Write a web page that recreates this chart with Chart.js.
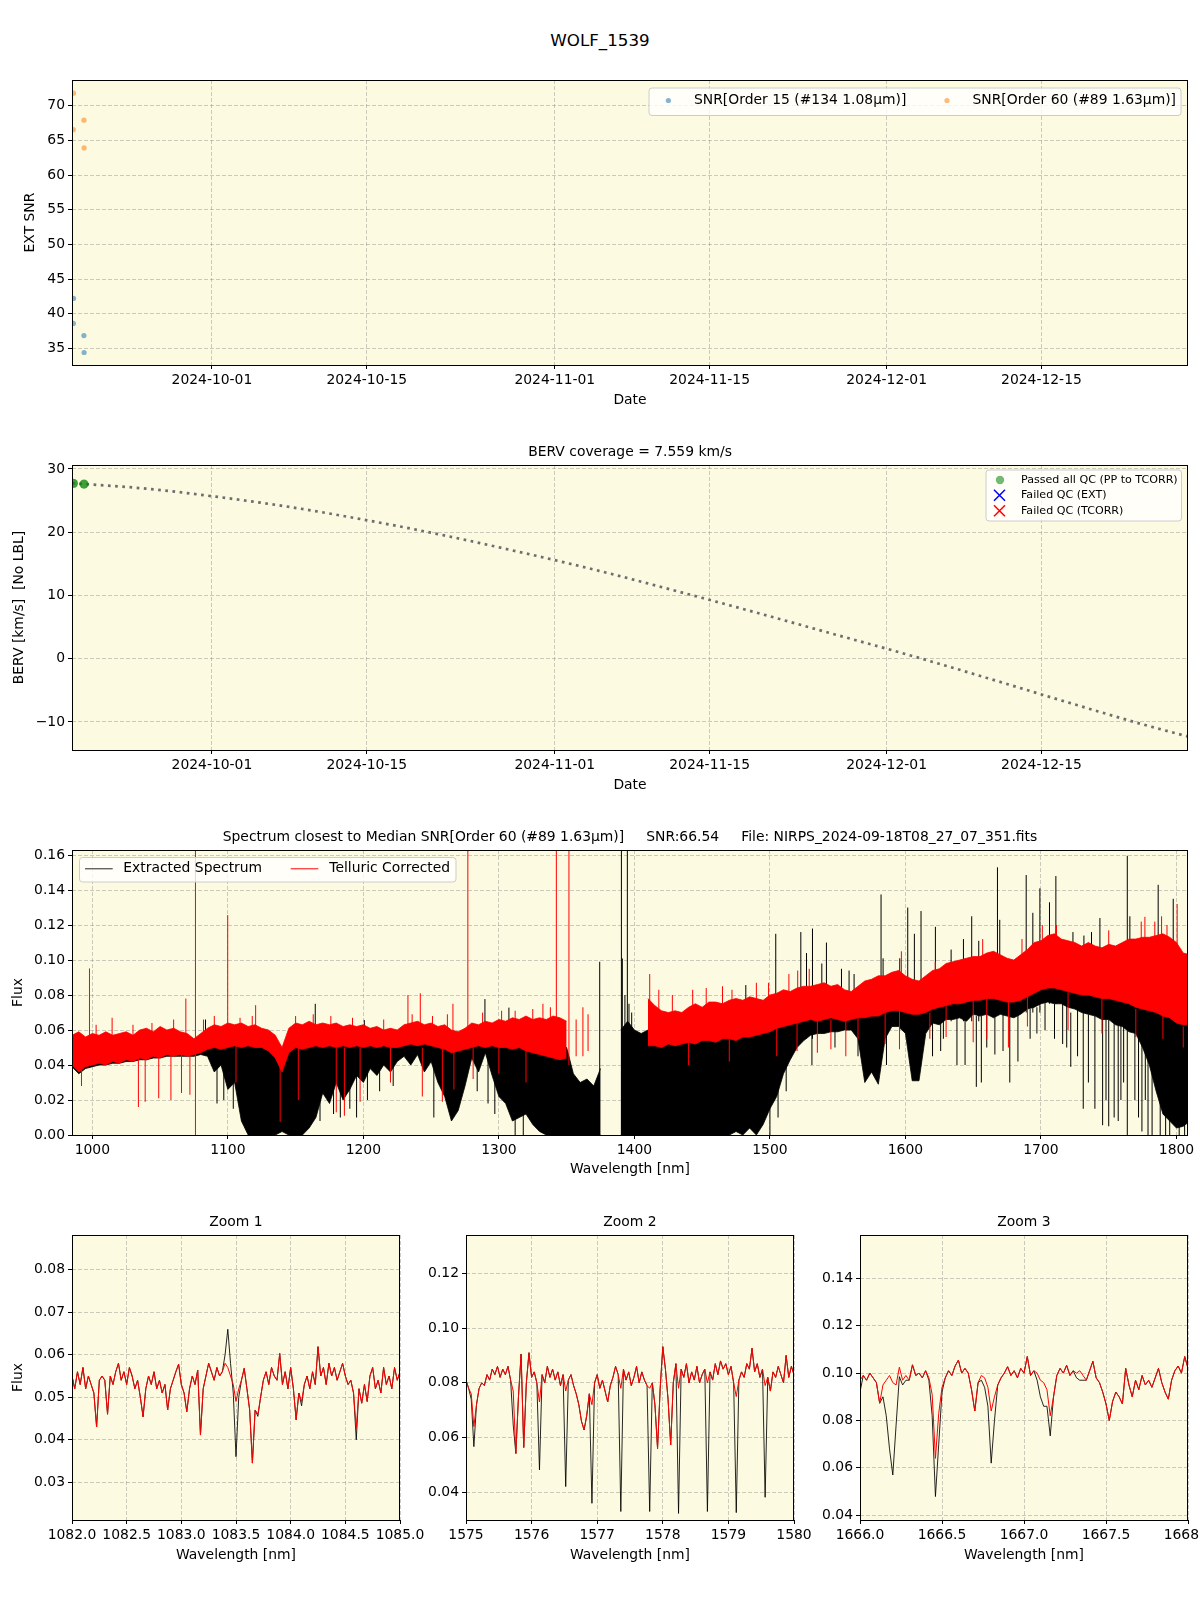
<!DOCTYPE html>
<html>
<head>
<meta charset="utf-8">
<script src="https://cdn.jsdelivr.net/npm/chart.js@4.4.1/dist/chart.umd.min.js"></script>
<style>
  body { margin: 0; background: #fff; width: 1200px; height: 1600px; position: relative; }
  canvas { position: absolute; }
  #suptitle { position: absolute; left: 0; top: 30px; width: 1200px; text-align: center;
    font-family: 'DejaVu Sans'; font-size: 16.7px; line-height: 20px; }
</style>
</head>
<body>
<div id="suptitle">WOLF_1539</div>
<canvas id="snrChart"></canvas>
<canvas id="bervChart"></canvas>
<canvas id="specChart"></canvas>
<canvas id="zoom1Chart"></canvas>
<canvas id="zoom2Chart"></canvas>
<canvas id="zoom3Chart"></canvas>
<script>
// ---- SNR panel ----
const obsDates = ['2024-09-18T11:15:00Z', '2024-09-18T11:40:00Z', '2024-09-19T10:15:00Z', '2024-09-19T10:40:00Z'];
const snrOrder15 = [38.6, 42.2, 36.85, 34.4];
const snrOrder60 = [66.54, 71.8, 67.9, 63.9];
const dateTicks = ['2024-10-01', '2024-10-15', '2024-11-01', '2024-11-15', '2024-12-01', '2024-12-15'];
const dateMin = '2024-09-18T08:24:00Z';
const dateMax = '2024-12-28T06:00:00Z';
const snrTicks = [35, 40, 45, 50, 55, 60, 65, 70];

// ---- BERV panel ----
const bervObs = [27.75, 27.7, 27.62, 27.6];
const bervCurveDates = ['2024-09-18T08:27:00Z', '2024-09-25', '2024-10-01', '2024-10-08', '2024-10-15', '2024-10-22',
  '2024-10-29', '2024-11-05', '2024-11-12', '2024-11-19', '2024-11-26', '2024-12-03', '2024-12-10',
  '2024-12-17', '2024-12-24', '2024-12-28T06:00:00Z'];
const bervCurve = [27.75, 26.9, 25.7, 24.0, 21.9, 19.5, 16.8, 13.9, 10.7, 7.4, 4.0, 0.6, -3.0, -6.7, -10.3, -12.3];
const bervTicks = [-10, 0, 10, 20, 30];

// ---- full spectrum: band envelopes on a 5 nm grid from 985 nm ----
const specStart = 985, specStep = 5;
const redHi = [
  0.057, 0.059, 0.056, 0.058, 0.057, 0.059, 0.057, 0.058, 0.059, 0.057,
  0.060, 0.061, 0.059, 0.062, 0.060, 0.061, 0.059, 0.058, 0.055, 0.058,
  0.061, 0.063, 0.062, 0.064, 0.063, 0.064, 0.062, 0.063, 0.061, 0.060,
  0.057, 0.050, 0.061, 0.064, 0.063, 0.065, 0.063, 0.064, 0.063, 0.064,
  0.062, 0.063, 0.062, 0.063, 0.061, 0.062, 0.060, 0.061, 0.060, 0.063,
  0.064, 0.065, 0.063, 0.064, 0.062, 0.063, 0.060, 0.059, 0.061, 0.064,
  0.063, 0.065, 0.064, 0.066, 0.065, 0.067, 0.066, 0.068, 0.066, 0.067,
  0.066, 0.068, 0.067, 0.065, null, null, null, null, null, null,
  null, null, null, null, null, 0.078, 0.074, 0.071, 0.070, 0.071,
  0.070, 0.073, 0.075, 0.073, 0.076, 0.076, 0.075, 0.077, 0.078, 0.077,
  0.079, 0.078, 0.077, 0.080, 0.081, 0.083, 0.082, 0.084, 0.085, 0.085,
  0.086, 0.087, 0.085, 0.086, 0.083, 0.082, 0.085, 0.088, 0.089, 0.091,
  0.091, 0.093, 0.094, 0.091, 0.089, 0.088, 0.091, 0.094, 0.095, 0.098,
  0.099, 0.100, 0.101, 0.102, 0.102, 0.104, 0.105, 0.103, 0.101, 0.100,
  0.103, 0.106, 0.110, 0.111, 0.114, 0.115, 0.112, 0.111, 0.110, 0.108,
  0.110, 0.108, 0.107, 0.109, 0.108, 0.110, 0.112, 0.112, 0.113, 0.113,
  0.114, 0.115, 0.113, 0.110, 0.104, 0.103
];
const redLo = [
  0.040, 0.036, 0.039, 0.040, 0.041, 0.040, 0.042, 0.041, 0.043, 0.042,
  0.044, 0.043, 0.045, 0.044, 0.046, 0.045, 0.046, 0.045, 0.046, 0.047,
  0.049, 0.050, 0.049, 0.050, 0.051, 0.050, 0.051, 0.050, 0.050, 0.048,
  0.044, 0.036, 0.047, 0.050, 0.049, 0.050, 0.051, 0.050, 0.051, 0.050,
  0.051, 0.050, 0.051, 0.050, 0.051, 0.050, 0.051, 0.050, 0.050, 0.051,
  0.052, 0.051, 0.052, 0.051, 0.050, 0.049, 0.047, 0.048, 0.049, 0.050,
  0.051, 0.050, 0.051, 0.050, 0.050, 0.049, 0.050, 0.048, 0.047, 0.046,
  0.045, 0.044, 0.043, 0.044, null, null, null, null, null, null,
  null, null, null, null, null, 0.051, 0.051, 0.050, 0.052, 0.051,
  0.052, 0.053, 0.052, 0.054, 0.054, 0.053, 0.055, 0.055, 0.054, 0.056,
  0.056, 0.057, 0.058, 0.059, 0.061, 0.062, 0.063, 0.064, 0.065, 0.066,
  0.065, 0.066, 0.067, 0.066, 0.065, 0.066, 0.067, 0.067, 0.068, 0.068,
  0.070, 0.071, 0.071, 0.070, 0.069, 0.069, 0.070, 0.072, 0.073, 0.074,
  0.075, 0.075, 0.076, 0.077, 0.077, 0.078, 0.078, 0.077, 0.076, 0.076,
  0.077, 0.079, 0.081, 0.083, 0.084, 0.084, 0.083, 0.082, 0.081, 0.080,
  0.080, 0.079, 0.078, 0.078, 0.077, 0.076, 0.075, 0.073, 0.072, 0.071,
  0.070, 0.068, 0.067, 0.064, 0.063, 0.063
];
const blackHi = [
  0.048, 0.044, 0.047, 0.048, 0.049, 0.048, 0.050, 0.049, 0.051, 0.050,
  0.052, 0.051, 0.053, 0.052, 0.054, 0.053, 0.054, 0.053, 0.052, 0.055,
  0.057, 0.058, 0.057, 0.058, 0.059, 0.058, 0.059, 0.058, 0.058, 0.056,
  0.052, 0.044, 0.055, 0.058, 0.057, 0.058, 0.059, 0.058, 0.059, 0.058,
  0.059, 0.058, 0.059, 0.058, 0.059, 0.058, 0.059, 0.058, 0.058, 0.059,
  0.060, 0.059, 0.060, 0.059, 0.058, 0.057, 0.055, 0.056, 0.057, 0.058,
  0.059, 0.058, 0.059, 0.058, 0.058, 0.057, 0.058, 0.056, 0.055, 0.054,
  0.053, 0.052, 0.051, 0.050, 0.035, 0.030, 0.032, 0.028, 0.038, null,
  null, 0.060, 0.065, 0.060, 0.058, 0.060, 0.058, 0.059, 0.060, 0.059,
  0.060, 0.061, 0.060, 0.061, 0.062, 0.061, 0.062, 0.063, 0.062, 0.063,
  0.064, 0.065, 0.066, 0.067, 0.069, 0.070, 0.071, 0.072, 0.073, 0.074,
  0.073, 0.074, 0.074, 0.074, 0.073, 0.074, 0.075, 0.075, 0.076, 0.076,
  0.078, 0.079, 0.079, 0.078, 0.077, 0.077, 0.078, 0.080, 0.081, 0.082,
  0.083, 0.083, 0.084, 0.085, 0.085, 0.086, 0.086, 0.086, 0.084, 0.084,
  0.085, 0.087, 0.089, 0.091, 0.092, 0.092, 0.091, 0.090, 0.089, 0.088,
  0.088, 0.087, 0.086, 0.086, 0.086, 0.085, 0.082, 0.080, 0.079, 0.078,
  0.077, 0.076, 0.074, 0.072, 0.070, 0.072
];
const blackLo = [
  0.039, 0.035, 0.038, 0.039, 0.040, 0.040, 0.041, 0.041, 0.042, 0.042,
  0.043, 0.043, 0.044, 0.044, 0.045, 0.045, 0.045, 0.045, 0.045, 0.046,
  0.045, 0.036, 0.040, 0.026, 0.030, 0.008, 0.0, 0.0, 0.0, 0.0,
  0.0, 0.002, 0.0, 0.0, 0.0, 0.004, 0.010, 0.024, 0.018, 0.030,
  0.020, 0.026, 0.034, 0.030, 0.038, 0.034, 0.040, 0.036, 0.042, 0.045,
  0.040, 0.046, 0.036, 0.042, 0.030, 0.022, 0.008, 0.014, 0.028, 0.044,
  0.036, 0.047, 0.034, 0.022, 0.018, 0.008, 0.010, 0.012, 0.006, 0.002,
  0.0, 0.0, 0.0, 0.0, 0.0, 0.0, 0.0, 0.0, 0.0, null,
  null, 0.0, 0.0, 0.0, 0.0, 0.0, 0.0, 0.0, 0.0, 0.0,
  0.0, 0.0, 0.0, 0.0, 0.0, 0.0, 0.0, 0.0, 0.002, 0.0,
  0.004, 0.0, 0.006, 0.015, 0.022, 0.035, 0.043, 0.050, 0.054, 0.057,
  0.058, 0.058, 0.059, 0.059, 0.060, 0.060, 0.055, 0.030, 0.036, 0.029,
  0.055, 0.062, 0.062, 0.058, 0.031, 0.031, 0.058, 0.064, 0.063, 0.066,
  0.066, 0.067, 0.065, 0.069, 0.068, 0.069, 0.067, 0.069, 0.068, 0.067,
  0.069, 0.072, 0.073, 0.075, 0.076, 0.075, 0.075, 0.073, 0.072, 0.070,
  0.069, 0.068, 0.066, 0.066, 0.063, 0.062, 0.059, 0.058, 0.050, 0.040,
  0.025, 0.012, 0.008, 0.004, 0.005, 0.008
];
// single lines sticking out of the bands: [wavelength, low flux, high flux]
const redSpikes = [
  [992, 0.028, 0.040], [997.9, 0.045, 0.0952], [1002.8, 0.050, 0.063], [1014.6, 0.050, 0.067],
  [1030, 0.052, 0.063], [1034, 0.016, 0.045], [1039, 0.019, 0.045], [1044, 0.055, 0.064],
  [1049, 0.021, 0.046], [1058, 0.020, 0.047], [1060, 0.055, 0.066], [1065.8, 0.024, 0.047],
  [1069, 0.050, 0.078], [1072, 0.023, 0.047], [1076.1, 0.0, 0.17], [1082, 0.052, 0.066],
  [1090, 0.055, 0.068], [1099.9, 0.055, 0.1257], [1106, 0.030, 0.052], [1109, 0.058, 0.067],
  [1118, 0.058, 0.068], [1120.5, 0.055, 0.0742], [1138.6, 0.0075, 0.040], [1150, 0.058, 0.068],
  [1152, 0.020, 0.050], [1163, 0.058, 0.069], [1176, 0.058, 0.068], [1180, 0.013, 0.050],
  [1186, 0.011, 0.050], [1192, 0.058, 0.067], [1197.6, 0.019, 0.050], [1215, 0.056, 0.066],
  [1220, 0.030, 0.050], [1232.9, 0.055, 0.080], [1236, 0.058, 0.069], [1242, 0.055, 0.081],
  [1243.5, 0.022, 0.050], [1251, 0.058, 0.068], [1258.3, 0.019, 0.050], [1262, 0.058, 0.069],
  [1266.1, 0.055, 0.075], [1266.8, 0.026, 0.048], [1277.1, 0.050, 0.17], [1281, 0.032, 0.050],
  [1288, 0.060, 0.070], [1300, 0.035, 0.050], [1302, 0.060, 0.071], [1312, 0.060, 0.071],
  [1320, 0.030, 0.048], [1325, 0.062, 0.072], [1332.5, 0.060, 0.075], [1338, 0.062, 0.073],
  [1342.4, 0.045, 0.17], [1351.7, 0.040, 0.17], [1357, 0.045, 0.066], [1362, 0.045, 0.073],
  [1365.8, 0.048, 0.069], [1411.3, 0.060, 0.092], [1418, 0.068, 0.083], [1428, 0.066, 0.080],
  [1440, 0.040, 0.053], [1443, 0.068, 0.083], [1453, 0.070, 0.084], [1465, 0.072, 0.085],
  [1470, 0.042, 0.055], [1472, 0.072, 0.083], [1490, 0.074, 0.087], [1499, 0.074, 0.087],
  [1505, 0.045, 0.061], [1514, 0.078, 0.092], [1520, 0.048, 0.064], [1520.5, 0.080, 0.094],
  [1529, 0.080, 0.095], [1535, 0.047, 0.065], [1545, 0.049, 0.066], [1556, 0.045, 0.066],
  [1565, 0.055, 0.067], [1585, 0.052, 0.070], [1595.6, 0.049, 0.071], [1597, 0.088, 0.105],
  [1618, 0.055, 0.070], [1622, 0.088, 0.099], [1630, 0.056, 0.074], [1650, 0.053, 0.077],
  [1657, 0.098, 0.112], [1660, 0.055, 0.078], [1676, 0.050, 0.076], [1686, 0.098, 0.112],
  [1690, 0.062, 0.079], [1701, 0.108, 0.120], [1711.5, 0.110, 0.120], [1720, 0.060, 0.082],
  [1745, 0.058, 0.078], [1750, 0.104, 0.117], [1770, 0.056, 0.072], [1774, 0.108, 0.122],
  [1776.7, 0.100, 0.1247], [1784, 0.108, 0.122], [1789, 0.110, 0.125], [1790, 0.055, 0.068],
  [1793, 0.110, 0.120], [1800.5, 0.100, 0.132], [1805, 0.050, 0.062]
];
const blackSpikes = [
  [1083.5, 0.05, 0.066], [1092, 0.018, 0.045], [1097, 0.020, 0.045], [1104, 0.015, 0.040],
  [1164.5, 0.05, 0.075], [1168, 0.008, 0.030], [1178, 0.012, 0.030], [1183, 0.010, 0.030],
  [1190, 0.015, 0.035], [1195, 0.010, 0.035], [1200.7, 0.05, 0.0657], [1203, 0.020, 0.040],
  [1212, 0.025, 0.040], [1222, 0.028, 0.040], [1252, 0.010, 0.040], [1284, 0.025, 0.045],
  [1289.7, 0.05, 0.0777], [1292, 0.018, 0.045], [1297, 0.012, 0.045], [1307.4, 0.05, 0.0728],
  [1312, 0.0, 0.020], [1318, 0.0, 0.020], [1374.4, 0.0, 0.099], [1390.4, 0.0, 0.17],
  [1391.1, 0.0, 0.1009], [1393, 0.0, 0.080], [1394.8, 0.0, 0.17], [1396, 0.0, 0.075],
  [1398, 0.0, 0.070], [1482.2, 0.04, 0.0857], [1500, 0.0, 0.030], [1504.3, 0.05, 0.115],
  [1506, 0.010, 0.030], [1512, 0.025, 0.045], [1522.8, 0.055, 0.116], [1527, 0.055, 0.104],
  [1531, 0.040, 0.060], [1531.4, 0.055, 0.118], [1538.3, 0.06, 0.098], [1541.7, 0.06, 0.110],
  [1548, 0.050, 0.060], [1552.8, 0.06, 0.095], [1558.4, 0.06, 0.094], [1562.1, 0.06, 0.092],
  [1565, 0.045, 0.060], [1582.0, 0.06, 0.1375], [1583.5, 0.06, 0.101], [1586, 0.040, 0.062],
  [1595.8, 0.06, 0.101], [1601.7, 0.06, 0.130], [1606.6, 0.06, 0.115], [1611.5, 0.06, 0.128],
  [1620, 0.045, 0.065], [1622.1, 0.065, 0.119], [1626, 0.048, 0.065], [1628, 0.055, 0.066],
  [1633.7, 0.065, 0.106], [1638, 0.040, 0.067], [1642.8, 0.065, 0.112], [1644, 0.040, 0.067],
  [1648.9, 0.065, 0.125], [1652.3, 0.0275, 0.068], [1654.1, 0.065, 0.111], [1656, 0.030, 0.068],
  [1660, 0.050, 0.069], [1666, 0.046, 0.070], [1667.9, 0.07, 0.153], [1669.6, 0.07, 0.123],
  [1672, 0.048, 0.069], [1677, 0.030, 0.068], [1683, 0.042, 0.070], [1689.1, 0.07, 0.1486],
  [1692, 0.055, 0.072], [1694.0, 0.07, 0.127], [1697, 0.058, 0.073], [1699.2, 0.07, 0.141],
  [1703, 0.060, 0.076], [1706.3, 0.075, 0.133], [1710, 0.055, 0.075], [1711.0, 0.075, 0.148],
  [1716, 0.052, 0.075], [1719, 0.050, 0.075], [1722, 0.039, 0.070], [1723.6, 0.075, 0.116],
  [1727, 0.045, 0.072], [1731.2, 0.015, 0.070], [1731.7, 0.07, 0.114], [1735, 0.030, 0.069],
  [1737.3, 0.07, 0.116], [1739.8, 0.015, 0.068], [1743.5, 0.07, 0.124], [1745.5, 0.0056, 0.067],
  [1748, 0.020, 0.066], [1750, 0.005, 0.066], [1754, 0.010, 0.065], [1757, 0.008, 0.063],
  [1759, 0.020, 0.063], [1761, 0.030, 0.062], [1763.7, 0.0, 0.1596], [1765.6, 0.07, 0.125],
  [1769.3, 0.020, 0.060], [1772, 0.010, 0.058], [1774.5, 0.002, 0.058], [1777, 0.020, 0.050],
  [1779, 0.0, 0.045], [1782, 0.0, 0.040], [1786.5, 0.06, 0.143], [1788, 0.0, 0.030],
  [1792, 0.0, 0.020], [1795, 0.0, 0.015], [1797.6, 0.06, 0.135], [1802, 0.0, 0.010],
  [1806, 0.0, 0.012]
];
const specXTicks = [1000, 1100, 1200, 1300, 1400, 1500, 1600, 1700, 1800];
const specYTicks = [0, 0.02, 0.04, 0.06, 0.08, 0.10, 0.12, 0.14, 0.16];

// ---- zoom windows ----
const zoom1Start = 1082, zoom1Step = 0.025;
const zoom1Red = [
  0.055, 0.052, 0.056, 0.053, 0.057, 0.052, 0.055, 0.053, 0.051, 0.043,
  0.054, 0.055, 0.054, 0.046, 0.055, 0.053, 0.056, 0.058, 0.054, 0.056,
  0.053, 0.057, 0.055, 0.052, 0.054, 0.050, 0.0454, 0.052, 0.055, 0.053,
  0.056, 0.052, 0.054, 0.051, 0.053, 0.047, 0.052, 0.054, 0.056, 0.0578,
  0.053, 0.051, 0.0466, 0.052, 0.055, 0.053, 0.0564, 0.0411, 0.052, 0.055,
  0.058, 0.056, 0.054, 0.057, 0.055, 0.056, 0.058, 0.057, 0.055, 0.053,
  0.049, 0.052, 0.054, 0.0568, 0.052, 0.047, 0.0345, 0.047, 0.046, 0.050,
  0.054, 0.056, 0.053, 0.057, 0.055, 0.054, 0.0603, 0.053, 0.056, 0.052,
  0.057, 0.052, 0.0447, 0.051, 0.049, 0.053, 0.055, 0.052, 0.056, 0.053,
  0.0619, 0.055, 0.057, 0.053, 0.058, 0.055, 0.057, 0.054, 0.056, 0.058,
  0.055, 0.053, 0.054, 0.051, 0.0427, 0.052, 0.0486, 0.053, 0.049, 0.055,
  0.057, 0.052, 0.054, 0.051, 0.057, 0.053, 0.055, 0.052, 0.057, 0.054,
  0.056
];
const zoom1Black = [
  0.055, 0.052, 0.056, 0.053, 0.057, 0.052, 0.055, 0.053, 0.051, 0.043,
  0.054, 0.055, 0.054, 0.046, 0.055, 0.053, 0.056, 0.058, 0.054, 0.056,
  0.053, 0.057, 0.055, 0.052, 0.054, 0.050, 0.0454, 0.052, 0.055, 0.053,
  0.056, 0.052, 0.054, 0.051, 0.053, 0.047, 0.052, 0.054, 0.056, 0.0578,
  0.053, 0.051, 0.0466, 0.052, 0.055, 0.053, 0.0564, 0.0411, 0.052, 0.055,
  0.058, 0.056, 0.054, 0.057, 0.055, 0.056, 0.060, 0.066, 0.058, 0.051,
  0.036, 0.050, 0.054, 0.0568, 0.052, 0.047, 0.0345, 0.047, 0.0455, 0.050,
  0.054, 0.056, 0.053, 0.057, 0.055, 0.054, 0.0603, 0.053, 0.056, 0.052,
  0.057, 0.052, 0.0447, 0.051, 0.048, 0.053, 0.055, 0.052, 0.056, 0.053,
  0.0619, 0.055, 0.057, 0.053, 0.058, 0.055, 0.057, 0.054, 0.056, 0.058,
  0.055, 0.053, 0.054, 0.051, 0.040, 0.052, 0.0486, 0.053, 0.049, 0.055,
  0.057, 0.052, 0.054, 0.051, 0.057, 0.053, 0.055, 0.052, 0.057, 0.054,
  0.056
];
const zoom2Start = 1575, zoom2Step = 0.04;
const zoom2Red = [
  0.081, 0.078, 0.076, 0.064, 0.072, 0.078, 0.080, 0.079, 0.083, 0.081,
  0.085, 0.083, 0.086, 0.082, 0.085, 0.083, 0.086, 0.081, 0.077, 0.0542,
  0.075, 0.0905, 0.0564, 0.080, 0.091, 0.082, 0.084, 0.080, 0.073, 0.083,
  0.080, 0.086, 0.082, 0.085, 0.081, 0.084, 0.079, 0.083, 0.077, 0.081,
  0.083, 0.079, 0.076, 0.072, 0.066, 0.0628, 0.068, 0.076, 0.072, 0.080,
  0.083, 0.078, 0.081, 0.077, 0.073, 0.079, 0.082, 0.086, 0.083, 0.078,
  0.085, 0.081, 0.084, 0.079, 0.082, 0.086, 0.080, 0.084, 0.081, 0.079,
  0.078, 0.080, 0.072, 0.056, 0.078, 0.0932, 0.085, 0.074, 0.0573, 0.080,
  0.087, 0.078, 0.085, 0.082, 0.087, 0.080, 0.084, 0.081, 0.086, 0.080,
  0.083, 0.085, 0.080, 0.084, 0.081, 0.087, 0.083, 0.088, 0.085, 0.087,
  0.083, 0.086, 0.080, 0.075, 0.081, 0.084, 0.082, 0.087, 0.085, 0.0926,
  0.084, 0.087, 0.082, 0.085, 0.079, 0.082, 0.077, 0.084, 0.082, 0.086,
  0.083, 0.080, 0.090, 0.082, 0.086, 0.083
];
const zoom2Black = [
  0.081, 0.078, 0.074, 0.0567, 0.072, 0.078, 0.080, 0.079, 0.083, 0.081,
  0.085, 0.083, 0.086, 0.082, 0.085, 0.083, 0.086, 0.081, 0.0646, 0.0542,
  0.075, 0.0905, 0.0564, 0.080, 0.091, 0.082, 0.084, 0.080, 0.0482, 0.083,
  0.080, 0.086, 0.082, 0.085, 0.081, 0.084, 0.079, 0.083, 0.0421, 0.081,
  0.083, 0.079, 0.076, 0.072, 0.066, 0.0628, 0.068, 0.076, 0.036, 0.080,
  0.083, 0.078, 0.081, 0.077, 0.073, 0.079, 0.082, 0.086, 0.083, 0.033,
  0.085, 0.081, 0.084, 0.079, 0.082, 0.086, 0.080, 0.084, 0.081, 0.079,
  0.033, 0.080, 0.072, 0.056, 0.078, 0.0932, 0.085, 0.074, 0.0573, 0.080,
  0.087, 0.0323, 0.085, 0.082, 0.087, 0.080, 0.084, 0.081, 0.086, 0.080,
  0.083, 0.085, 0.033, 0.084, 0.081, 0.087, 0.083, 0.088, 0.085, 0.087,
  0.083, 0.086, 0.080, 0.0326, 0.081, 0.084, 0.082, 0.087, 0.085, 0.0926,
  0.084, 0.087, 0.082, 0.085, 0.0382, 0.082, 0.077, 0.084, 0.082, 0.086,
  0.083, 0.080, 0.090, 0.082, 0.086, 0.083
];
const zoom3Start = 1666, zoom3Step = 0.02;
const zoom3Red = [
  0.097, 0.099, 0.097, 0.100, 0.098, 0.096, 0.0873, 0.095, 0.097, 0.099,
  0.096, 0.095, 0.1025, 0.097, 0.099, 0.097, 0.1035, 0.099, 0.100, 0.098,
  0.101, 0.098, 0.091, 0.064, 0.083, 0.094, 0.098, 0.101, 0.099, 0.103,
  0.1055, 0.100, 0.102, 0.100, 0.093, 0.084, 0.096, 0.099, 0.098, 0.094,
  0.084, 0.090, 0.095, 0.098, 0.100, 0.1027, 0.099, 0.101, 0.098, 0.102,
  0.100, 0.107, 0.099, 0.101, 0.100, 0.097, 0.096, 0.093, 0.082, 0.090,
  0.099, 0.102, 0.100, 0.1033, 0.099, 0.101, 0.100, 0.101, 0.099, 0.097,
  0.101, 0.105, 0.098, 0.096, 0.092, 0.087, 0.080, 0.088, 0.092, 0.090,
  0.087, 0.102, 0.095, 0.090, 0.097, 0.093, 0.099, 0.095, 0.097, 0.094,
  0.098, 0.102, 0.096, 0.092, 0.089, 0.097, 0.101, 0.103, 0.100, 0.107,
  0.102
];
const zoom3Black = [
  0.092, 0.099, 0.097, 0.100, 0.098, 0.096, 0.0873, 0.090, 0.082, 0.068,
  0.057, 0.078, 0.0985, 0.095, 0.097, 0.097, 0.1035, 0.099, 0.100, 0.098,
  0.101, 0.097, 0.082, 0.0479, 0.070, 0.092, 0.098, 0.101, 0.099, 0.103,
  0.1055, 0.100, 0.102, 0.100, 0.093, 0.084, 0.096, 0.097, 0.094, 0.086,
  0.062, 0.080, 0.095, 0.098, 0.100, 0.1027, 0.099, 0.101, 0.098, 0.102,
  0.100, 0.107, 0.099, 0.101, 0.097, 0.090, 0.086, 0.086, 0.0735, 0.090,
  0.099, 0.102, 0.100, 0.1033, 0.099, 0.101, 0.098, 0.097, 0.097, 0.097,
  0.101, 0.105, 0.098, 0.096, 0.092, 0.087, 0.080, 0.088, 0.092, 0.090,
  0.087, 0.102, 0.095, 0.090, 0.097, 0.093, 0.099, 0.095, 0.097, 0.094,
  0.098, 0.102, 0.096, 0.092, 0.089, 0.097, 0.101, 0.103, 0.100, 0.107,
  0.102
];
const zoom1XTicks = [1082, 1082.5, 1083, 1083.5, 1084, 1084.5, 1085];
const zoom1YTicks = [0.03, 0.04, 0.05, 0.06, 0.07, 0.08];
const zoom2XTicks = [1575, 1576, 1577, 1578, 1579, 1580];
const zoom2YTicks = [0.04, 0.06, 0.08, 0.10, 0.12];
const zoom3XTicks = [1666, 1666.5, 1667, 1667.5, 1668];
const zoom3YTicks = [0.04, 0.06, 0.08, 0.10, 0.12, 0.14];

// ---------------------------------------------------------------
const FS = 13.9, LH = FS * 1.2;
const BG = '#fcfbe2';
const GRID = 'rgba(128,128,128,0.4)';
const BLUE = 'rgba(31,119,180,0.55)', ORANGE = 'rgba(255,127,14,0.55)';

Chart.defaults.font.family = 'DejaVu Sans';
Chart.defaults.font.size = FS;
Chart.defaults.color = '#000';
Chart.defaults.animation = false;
Chart.defaults.events = [];
Chart.defaults.plugins.legend.display = false;
Chart.defaults.plugins.tooltip.enabled = false;
Chart.defaults.elements.point.radius = 0;

const t = s => Date.parse(s.length === 10 ? s + 'T00:00:00Z' : s);
const onGrid = (start, step, vals) => vals.map((v, i) => ({x: +(start + i * step).toFixed(4), y: v}));
const spikes = list => list.flatMap(([w, lo, hi]) => [{x: w, y: lo}, {x: w, y: hi}, {x: w, y: null}]);
const minus = v => (v < 0 ? '\u2212' + Math.abs(v) : String(v));

// yellow plot area, black frame and a matplotlib-like legend box
const panelDeco = {
  id: 'panelDeco',
  beforeDraw(chart) {
    const {ctx, chartArea: a} = chart;
    ctx.save();
    ctx.fillStyle = BG;
    ctx.fillRect(a.left, a.top, a.right - a.left, a.bottom - a.top);
    ctx.restore();
  },
  afterDatasetsDraw(chart, args, opts) {
    const {ctx, chartArea: a} = chart;
    ctx.save();
    ctx.strokeStyle = '#000';
    ctx.lineWidth = 1;
    ctx.strokeRect(Math.round(a.left) + 0.5, Math.round(a.top) + 0.5,
      Math.round(a.right - a.left) - 1, Math.round(a.bottom - a.top));
    const lg = opts.legend;
    if (lg) {
      const [ox, oy] = opts.origin;
      const x = lg.x - ox, y = lg.y - oy, w = lg.w, h = lg.h, r = 3;
      ctx.beginPath();
      ctx.moveTo(x + r, y);
      ctx.arcTo(x + w, y, x + w, y + h, r);
      ctx.arcTo(x + w, y + h, x, y + h, r);
      ctx.arcTo(x, y + h, x, y, r);
      ctx.arcTo(x, y, x + w, y, r);
      ctx.closePath();
      ctx.fillStyle = 'rgba(255,255,255,0.8)';
      ctx.fill();
      ctx.strokeStyle = '#cccccc';
      ctx.stroke();
      ctx.font = lg.size + 'px "DejaVu Sans"';
      ctx.textBaseline = 'middle';
      lg.items.forEach(it => {
        const mx = it.mx - ox, my = it.y - oy;
        ctx.fillStyle = it.color;
        ctx.strokeStyle = it.color;
        if (it.kind === 'dot') {
          ctx.beginPath();
          ctx.arc(mx, my, it.r, 0, Math.PI * 2);
          ctx.fill();
        } else if (it.kind === 'line') {
          ctx.lineWidth = 1;
          ctx.beginPath();
          ctx.moveTo(mx, my);
          ctx.lineTo(it.mx2 - ox, my);
          ctx.stroke();
        } else {
          ctx.lineWidth = 1.5;
          ctx.beginPath();
          ctx.moveTo(mx - it.r, my - it.r);
          ctx.lineTo(mx + it.r, my + it.r);
          ctx.moveTo(mx + it.r, my - it.r);
          ctx.lineTo(mx - it.r, my + it.r);
          ctx.stroke();
        }
        ctx.fillStyle = '#000';
        ctx.fillText(it.text, it.tx - ox, my);
      });
    }
    ctx.restore();
  }
};

function axisOpts(o) {
  return {
    type: 'linear',
    min: o.min,
    max: o.max,
    afterBuildTicks: ax => { ax.ticks = o.ticks.map(v => ({value: v})); },
    afterFit: ax => {
      if (o.width != null) ax.width = o.width;
      if (o.height != null) ax.height = o.height;
      ax.paddingLeft = ax.paddingRight = ax.paddingTop = ax.paddingBottom = 0;
    },
    grid: {color: GRID, lineWidth: 1, tickLength: 4, tickColor: '#000', tickWidth: 1, tickBorderDash: []},
    border: {display: false, dash: [4, 2]},
    ticks: {callback: o.fmt, padding: 3, maxRotation: 0, minRotation: 0, autoSkip: false, font: {size: FS}},
    title: o.title ? {display: true, text: o.title, font: {size: FS}, padding: o.pad} : {display: false}
  };
}

// box = canvas rect on the page, area = wanted plot rect on the page
function panel(id, box, area, p) {
  const cv = document.getElementById(id);
  cv.width = box.w;
  cv.height = box.h;
  cv.style.left = box.x + 'px';
  cv.style.top = box.y + 'px';
  const tTop = p.titleY ? p.titleY - LH / 2 - box.y : 0;
  const xs = axisOpts({
    min: p.x.min, max: p.x.max, ticks: p.x.ticks, fmt: p.x.fmt, title: p.x.title,
    height: box.y + box.h - area.b,
    pad: {top: 0, bottom: box.y + box.h - p.x.titleY - LH / 2}
  });
  const ys = axisOpts({
    min: p.y.min, max: p.y.max, ticks: p.y.ticks, fmt: p.y.fmt, title: p.y.title,
    width: area.l - box.x,
    pad: {top: (p.y.titleX || 0) - box.x - LH / 2, bottom: 0}
  });
  return new Chart(cv, {
    type: p.type,
    data: {datasets: p.datasets},
    options: {
      responsive: false,
      devicePixelRatio: 1,
      layout: {padding: {left: 0, bottom: 0, right: box.x + box.w - area.r, top: p.titleY ? 0 : area.t - box.y}},
      scales: {x: xs, y: ys},
      plugins: {
        title: p.titleY ? {
          display: true, text: p.title, fullSize: false, color: '#000',
          font: {size: FS, weight: 'normal'},
          padding: {top: tTop, bottom: area.t - box.y - tTop - LH}
        } : {display: false},
        panelDeco: {origin: [box.x, box.y], legend: p.legend}
      }
    },
    plugins: [panelDeco]
  });
}

const fmtDate = v => new Date(v).toISOString().slice(0, 10);
const dateAxis = {min: t(dateMin), max: t(dateMax), ticks: dateTicks.map(t), fmt: fmtDate, title: 'Date'};

// ---- 1. SNR vs date ----
panel('snrChart', {x: 0, y: 60, w: 1200, h: 350}, {l: 72, t: 80, r: 1188, b: 365}, {
  type: 'scatter',
  x: Object.assign({titleY: 400}, dateAxis),
  y: {min: 32.6, max: 73.7, ticks: snrTicks, fmt: v => String(v), title: 'EXT SNR', titleX: 30.6},
  datasets: [
    {data: obsDates.map((d, i) => ({x: t(d), y: snrOrder15[i]})), backgroundColor: BLUE, borderWidth: 0, pointRadius: 2.6},
    {data: obsDates.map((d, i) => ({x: t(d), y: snrOrder60[i]})), backgroundColor: ORANGE, borderWidth: 0, pointRadius: 2.6}
  ],
  legend: {x: 649, y: 88, w: 532, h: 27.5, size: FS, items: [
    {kind: 'dot', mx: 668.4, y: 100.5, r: 2.6, color: BLUE, tx: 694, text: 'SNR[Order 15 (#134 1.08μm)]'},
    {kind: 'dot', mx: 947, y: 100.5, r: 2.6, color: ORANGE, tx: 972.5, text: 'SNR[Order 60 (#89 1.63μm)]'}
  ]}
});

// ---- 2. BERV vs date ----
panel('bervChart', {x: 0, y: 440, w: 1200, h: 355}, {l: 72, t: 465, r: 1188, b: 750}, {
  type: 'scatter',
  titleY: 452, title: 'BERV coverage = 7.559 km/s',
  x: Object.assign({titleY: 785}, dateAxis),
  y: {min: -14.43, max: 30.63, ticks: bervTicks, fmt: minus, title: 'BERV [km/s]  [No LBL]', titleX: 19.3},
  datasets: [
    {data: obsDates.map((d, i) => ({x: t(d), y: bervObs[i]})), backgroundColor: 'rgba(0,128,0,0.5)', borderWidth: 0, pointRadius: 4.5, order: 1},
    {type: 'line', data: bervCurveDates.map((d, i) => ({x: t(d), y: bervCurve[i]})), borderColor: '#6e6e6e',
      borderWidth: 2.7, borderDash: [2.7, 4.5], cubicInterpolationMode: 'monotone', pointRadius: 0, order: 2}
  ],
  legend: {x: 986, y: 470, w: 195.5, h: 51, size: 11.1, items: [
    {kind: 'dot', mx: 1000, y: 480, r: 4.2, color: 'rgba(0,128,0,0.55)', tx: 1021, text: 'Passed all QC (PP to TCORR)'},
    {kind: 'x', mx: 999.5, y: 495.3, r: 5.5, color: '#0000ff', tx: 1021, text: 'Failed QC (EXT)'},
    {kind: 'x', mx: 999.5, y: 510.8, r: 5.5, color: '#ff0000', tx: 1021, text: 'Failed QC (TCORR)'}
  ]}
});

// ---- 3. full spectrum ----
const line = (data, color, w, order, extra) => Object.assign({type: 'line', data, borderColor: color, borderWidth: w,
  pointRadius: 0, spanGaps: false, fill: false, order}, extra || {});
panel('specChart', {x: 0, y: 825, w: 1200, h: 355}, {l: 72, t: 850, r: 1188, b: 1135}, {
  type: 'line',
  titleY: 837,
  title: 'Spectrum closest to Median SNR[Order 60 (#89 1.63μm)]     SNR:66.54     File: NIRPS_2024-09-18T08_27_07_351.fits',
  x: {min: 985, max: 1808.5, ticks: specXTicks, fmt: v => String(v), title: 'Wavelength [nm]', titleY: 1169},
  y: {min: 0, max: 0.1629, ticks: specYTicks, fmt: v => v.toFixed(2), title: 'Flux', titleX: 18.4},
  datasets: [
    line(onGrid(specStart, specStep, redLo), '#ff0000', 0.8, 1),
    line(onGrid(specStart, specStep, redHi), '#ff0000', 0.8, 1, {fill: '-1', backgroundColor: '#ff0000'}),
    line(spikes(redSpikes), '#ff0000', 1, 1),
    line(onGrid(specStart, specStep, blackLo), '#000000', 0.8, 2),
    line(onGrid(specStart, specStep, blackHi), '#000000', 0.8, 2, {fill: '-1', backgroundColor: '#000000'}),
    line(spikes(blackSpikes), '#000000', 1, 2)
  ],
  legend: {x: 79.5, y: 857.5, w: 376.5, h: 24.5, size: FS, items: [
    {kind: 'line', mx: 85, mx2: 112.7, y: 868.8, color: 'rgba(0,0,0,0.85)', tx: 123.3, text: 'Extracted Spectrum'},
    {kind: 'line', mx: 290.7, mx2: 318.3, y: 868.8, color: '#ff0000', tx: 329.3, text: 'Telluric Corrected'}
  ]}
});

// ---- 4. zoom windows ----
const zoomSets = (start, step, black, red) => [
  line(onGrid(start, step, red), '#ff0000', 1, 1),
  line(onGrid(start, step, black), 'rgba(0,0,0,0.85)', 1, 2)
];
const dec1 = v => v.toFixed(1), dec2 = v => v.toFixed(2);
panel('zoom1Chart', {x: 0, y: 1210, w: 430, h: 365}, {l: 72, t: 1235, r: 400, b: 1520}, {
  type: 'line', titleY: 1222, title: 'Zoom 1',
  x: {min: 1082, max: 1085, ticks: zoom1XTicks, fmt: dec1, title: 'Wavelength [nm]', titleY: 1555},
  y: {min: 0.0211, max: 0.0882, ticks: zoom1YTicks, fmt: dec2, title: 'Flux', titleX: 18.3},
  datasets: zoomSets(zoom1Start, zoom1Step, zoom1Black, zoom1Red)
});
panel('zoom2Chart', {x: 410, y: 1210, w: 420, h: 365}, {l: 466, t: 1235, r: 794, b: 1520}, {
  type: 'line', titleY: 1222, title: 'Zoom 2',
  x: {min: 1575, max: 1580, ticks: zoom2XTicks, fmt: v => String(v), title: 'Wavelength [nm]', titleY: 1555},
  y: {min: 0.0299, max: 0.134, ticks: zoom2YTicks, fmt: dec2},
  datasets: zoomSets(zoom2Start, zoom2Step, zoom2Black, zoom2Red)
});
panel('zoom3Chart', {x: 820, y: 1210, w: 380, h: 365}, {l: 860, t: 1235, r: 1188, b: 1520}, {
  type: 'line', titleY: 1222, title: 'Zoom 3',
  x: {min: 1666, max: 1668, ticks: zoom3XTicks, fmt: dec1, title: 'Wavelength [nm]', titleY: 1555},
  y: {min: 0.038, max: 0.1583, ticks: zoom3YTicks, fmt: dec2},
  datasets: zoomSets(zoom3Start, zoom3Step, zoom3Black, zoom3Red)
});
</script>
</body>
</html>
